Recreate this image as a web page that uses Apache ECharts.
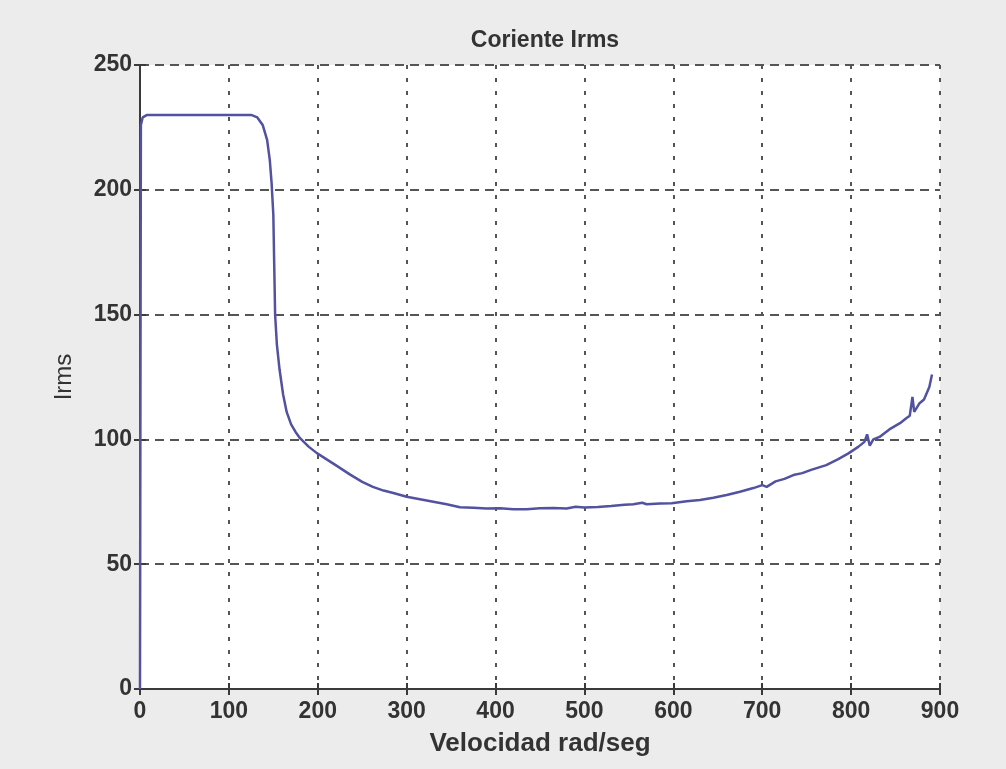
<!DOCTYPE html>
<html>
<head>
<meta charset="utf-8">
<script src="https://cdn.jsdelivr.net/npm/echarts@6/dist/echarts.min.js"></script>
<style>
  html, body { margin: 0; padding: 0; background: #ececec; }
  #chart { width: 1006px; height: 769px; }
</style>
</head>
<body>
<div id="chart"></div>
<script>
// Speed (rad/seg) samples and the RMS current measured at each
const velocidad = [
  0, 0.5, 1, 3, 8, 50, 100, 125, 132, 138, 143, 146, 148, 150, 151, 152, 154, 157, 161, 165,
  170, 175, 180, 190, 199, 210, 221, 236, 250, 262, 274, 285, 300, 315, 330, 345, 360, 375, 390, 405,
  420, 435, 450, 465, 480, 490, 500, 515, 530, 545, 555, 565, 570, 585, 598, 615, 630, 645, 660, 675,
  690, 700, 705, 715, 725, 735, 745, 755, 772, 785, 797, 808, 815, 818, 821, 825, 832, 843, 855, 862,
  866, 869, 871, 877, 882, 885, 888, 891
];
const irms = [
  0, 120, 226, 229, 230, 230, 230, 230, 229, 226, 220, 212, 203, 190, 170, 150, 138, 128, 118, 111,
  106, 103, 100.5, 97, 94.5, 92, 89.5, 86, 83, 81, 79.5, 78.5, 77, 76, 75, 74, 72.8, 72.6, 72.3, 72.4,
  72, 72, 72.4, 72.5, 72.3, 73, 72.7, 72.9, 73.3, 73.8, 74, 74.6, 74, 74.3, 74.4, 75.2, 75.7, 76.6, 77.7, 79,
  80.5, 81.7, 81, 83.2, 84.2, 85.7, 86.5, 87.8, 89.7, 92, 94.4, 97, 99, 102, 97.5, 100, 101, 104, 106.5, 108.5,
  109.5, 117, 111, 114.5, 116, 118.5, 121, 126
];
const xTicks = [0, 100, 200, 300, 400, 500, 600, 700, 800, 900];
const yTicks = [0, 50, 100, 150, 200, 250];

const tickFont = {
  fontFamily: '"Liberation Sans Narrow", "Arial Narrow", "Liberation Sans", Arial, sans-serif',
  fontWeight: 'bold',
  fontSize: 23,
  color: '#333'
};
const boxLine = { lineStyle: { color: '#3a3a3a', width: 2 } };
const innerTick = { inside: true, length: 6, lineStyle: { color: '#3a3a3a', width: 2 } };

const chart = echarts.init(document.getElementById('chart'));
chart.setOption({
  backgroundColor: '#ececec',
  animation: false,
  title: {
    text: 'Coriente Irms',
    left: 540,
    textAlign: 'center',
    top: 24,
    textStyle: Object.assign({}, tickFont, { fontSize: 23 })
  },
  grid: {
    left: 140, right: 66, top: 65, bottom: 80,
    show: true, backgroundColor: '#ffffff', borderWidth: 0
  },
  xAxis: [
    {
      type: 'value', min: 0, max: 900, interval: 100, position: 'bottom',
      axisLine: boxLine,
      axisTick: innerTick,
      axisLabel: Object.assign({}, tickFont, {
        margin: 11,
        formatter: v => xTicks.includes(v) ? String(v) : ''
      }),
      splitLine: { show: true, lineStyle: { color: '#555', width: 2, type: [4, 9] } },
      name: 'Velocidad rad/seg', nameLocation: 'middle', nameGap: 42,
      nameTextStyle: Object.assign({}, tickFont, { fontSize: 26 })
    },
    {
      type: 'value', min: 0, max: 900, interval: 100, position: 'top',
      axisLine: boxLine,
      axisTick: innerTick,
      axisLabel: { show: false }, splitLine: { show: false }
    }
  ],
  yAxis: [
    {
      type: 'value', min: 0, max: 250, interval: 50, position: 'left',
      axisLine: boxLine,
      axisTick: innerTick,
      axisLabel: Object.assign({}, tickFont, {
        margin: 8,
        formatter: v => yTicks.includes(v) ? String(v) : ''
      }),
      splitLine: { show: true, lineStyle: { color: '#555', width: 2, type: [9, 6] } },
      name: 'Irms', nameLocation: 'middle', nameGap: 64, nameRotate: 90,
      nameTextStyle: Object.assign({}, tickFont, { fontWeight: 'normal', fontSize: 24 })
    },
    {
      type: 'value', min: 0, max: 250, interval: 50, position: 'right',
      axisLine: boxLine,
      axisTick: innerTick,
      axisLabel: { show: false }, splitLine: { show: false }
    }
  ],
  series: [{
    type: 'line',
    xAxisIndex: 0, yAxisIndex: 0,
    data: velocidad.map((v, i) => [v, irms[i]]),
    showSymbol: false,
    smooth: false,
    lineStyle: { color: '#5252a0', width: 2.5 },
    z: 5
  }]
});
</script>
</body>
</html>
